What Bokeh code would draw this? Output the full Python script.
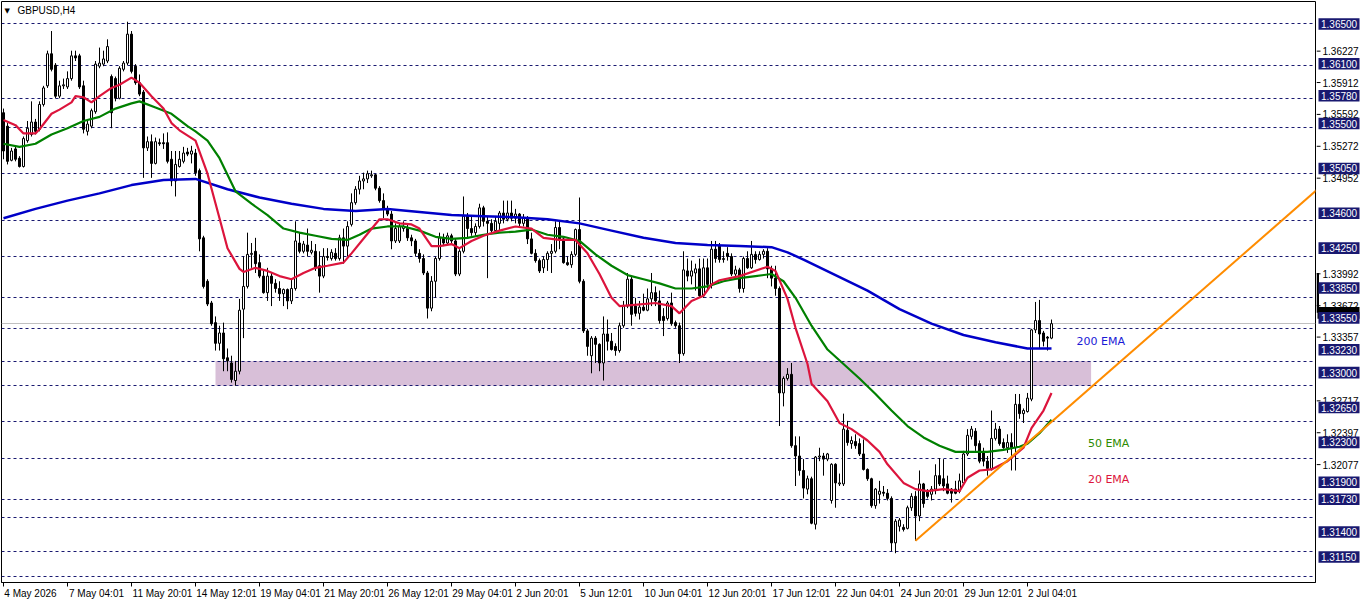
from bokeh.plotting import figure
from bokeh.layouts import row
from bokeh.models import Range1d, FixedTicker, LinearAxis, Label, ColumnDataSource
from bokeh.embed import file_html
from bokeh.resources import INLINE
from bokeh.core.properties import value

# ---------------- data (GBPUSD, H4) ----------------
open_ = [
    1.3564, 1.3551, 1.3518, 1.3529, 1.3520, 1.3512, 1.3537, 1.3543, 1.3555, 1.3548,
    1.3572, 1.3590, 1.3621, 1.3610, 1.3580, 1.3590, 1.3589, 1.3597, 1.3619, 1.3619,
    1.3590, 1.3546, 1.3551, 1.3565, 1.3609, 1.3611, 1.3614, 1.3599, 1.3597, 1.3578,
    1.3606, 1.3612, 1.3640, 1.3609, 1.3593, 1.3584, 1.3530, 1.3536, 1.3515, 1.3535,
    1.3535, 1.3535, 1.3519, 1.3498, 1.3512, 1.3517, 1.3526, 1.3524, 1.3525, 1.3508,
    1.3443, 1.3401, 1.3380, 1.3361, 1.3341, 1.3351, 1.3327, 1.3322, 1.3305, 1.3314,
    1.3374, 1.3396, 1.3427, 1.3430, 1.3419, 1.3406, 1.3390, 1.3406, 1.3399, 1.3394,
    1.3389, 1.3393, 1.3382, 1.3394, 1.3438, 1.3430, 1.3436, 1.3429, 1.3430, 1.3416,
    1.3406, 1.3425, 1.3423, 1.3428, 1.3423, 1.3443, 1.3435, 1.3456, 1.3477, 1.3490,
    1.3498, 1.3500, 1.3503, 1.3504, 1.3491, 1.3479, 1.3471, 1.3466, 1.3440, 1.3440,
    1.3452, 1.3452, 1.3443, 1.3440, 1.3428, 1.3423, 1.3409, 1.3375, 1.3401, 1.3423,
    1.3443, 1.3438, 1.3445, 1.3440, 1.3408, 1.3430, 1.3464, 1.3452, 1.3448, 1.3454,
    1.3472, 1.3459, 1.3457, 1.3450, 1.3457, 1.3467, 1.3461, 1.3467, 1.3462, 1.3466,
    1.3457, 1.3462, 1.3442, 1.3428, 1.3421, 1.3414, 1.3422, 1.3428, 1.3430, 1.3453,
    1.3442, 1.3419, 1.3417, 1.3427, 1.3451, 1.3401, 1.3353, 1.3329, 1.3346, 1.3340,
    1.3322, 1.3350, 1.3343, 1.3338, 1.3334, 1.3358, 1.3377, 1.3403, 1.3377, 1.3370,
    1.3376, 1.3373, 1.3384, 1.3390, 1.3382, 1.3367, 1.3365, 1.3380, 1.3361, 1.3358,
    1.3331, 1.3411, 1.3406, 1.3409, 1.3413, 1.3387, 1.3414, 1.3398, 1.3432, 1.3435,
    1.3422, 1.3428, 1.3425, 1.3408, 1.3412, 1.3394, 1.3423, 1.3414, 1.3427, 1.3422,
    1.3427, 1.3430, 1.3413, 1.3404, 1.3394, 1.3293, 1.3307, 1.3311, 1.3242, 1.3232,
    1.3218, 1.3200, 1.3210, 1.3166, 1.3231, 1.3232, 1.3229, 1.3189, 1.3224, 1.3205,
    1.3205, 1.3257, 1.3244, 1.3246, 1.3244, 1.3234, 1.3219, 1.3210, 1.3184, 1.3195,
    1.3197, 1.3196, 1.3191, 1.3148, 1.3164, 1.3163, 1.3162, 1.3182, 1.3193, 1.3174,
    1.3205, 1.3198, 1.3195, 1.3200, 1.3213, 1.3210, 1.3205, 1.3200, 1.3200, 1.3198,
    1.3206, 1.3234, 1.3251, 1.3256, 1.3244, 1.3235, 1.3227, 1.3220, 1.3249, 1.3258,
    1.3245, 1.3240, 1.3245, 1.3240, 1.3282, 1.3273, 1.3275, 1.3287, 1.3354, 1.3363,
    1.3351, 1.3347, 1.3346,
]
high_ = [
    1.3568, 1.3554, 1.3530, 1.3531, 1.3522, 1.3541, 1.3556, 1.3575, 1.3558, 1.3575,
    1.3590, 1.3624, 1.3643, 1.3612, 1.3595, 1.3597, 1.3604, 1.3624, 1.3624, 1.3621,
    1.3595, 1.3556, 1.3568, 1.3614, 1.3627, 1.3624, 1.3635, 1.3601, 1.3599, 1.3609,
    1.3614, 1.3652, 1.3643, 1.3611, 1.3601, 1.3586, 1.3541, 1.3543, 1.3540, 1.3539,
    1.3544, 1.3545, 1.3527, 1.3527, 1.3527, 1.3531, 1.3530, 1.3532, 1.3529, 1.3510,
    1.3445, 1.3403, 1.3382, 1.3367, 1.3358, 1.3361, 1.3336, 1.3329, 1.3324, 1.3384,
    1.3425, 1.3448, 1.3438, 1.3443, 1.3427, 1.3411, 1.3414, 1.3409, 1.3403, 1.3401,
    1.3394, 1.3394, 1.3403, 1.3459, 1.3448, 1.3440, 1.3452, 1.3440, 1.3437, 1.3430,
    1.3433, 1.3433, 1.3432, 1.3433, 1.3446, 1.3452, 1.3459, 1.3486, 1.3493, 1.3503,
    1.3506, 1.3508, 1.3508, 1.3505, 1.3493, 1.3486, 1.3474, 1.3469, 1.3457, 1.3457,
    1.3459, 1.3457, 1.3446, 1.3442, 1.3432, 1.3427, 1.3411, 1.3406, 1.3425, 1.3448,
    1.3447, 1.3448, 1.3447, 1.3442, 1.3432, 1.3483, 1.3467, 1.3464, 1.3457, 1.3476,
    1.3474, 1.3464, 1.3461, 1.3464, 1.3469, 1.3479, 1.3479, 1.3479, 1.3471, 1.3467,
    1.3466, 1.3464, 1.3448, 1.3432, 1.3423, 1.3425, 1.3430, 1.3437, 1.3459, 1.3459,
    1.3444, 1.3425, 1.3430, 1.3452, 1.3482, 1.3403, 1.3355, 1.3348, 1.3348, 1.3341,
    1.3367, 1.3364, 1.3351, 1.3341, 1.3361, 1.3382, 1.3409, 1.3406, 1.3385, 1.3382,
    1.3389, 1.3394, 1.3409, 1.3396, 1.3392, 1.3375, 1.3382, 1.3390, 1.3363, 1.3361,
    1.3430, 1.3423, 1.3421, 1.3418, 1.3423, 1.3423, 1.3423, 1.3440, 1.3440, 1.3438,
    1.3430, 1.3434, 1.3428, 1.3416, 1.3414, 1.3425, 1.3430, 1.3440, 1.3430, 1.3430,
    1.3432, 1.3433, 1.3416, 1.3416, 1.3396, 1.3309, 1.3317, 1.3322, 1.3251, 1.3251,
    1.3229, 1.3213, 1.3212, 1.3232, 1.3240, 1.3235, 1.3235, 1.3225, 1.3225, 1.3215,
    1.3273, 1.3266, 1.3251, 1.3253, 1.3249, 1.3248, 1.3220, 1.3211, 1.3201, 1.3208,
    1.3203, 1.3200, 1.3193, 1.3171, 1.3172, 1.3166, 1.3184, 1.3196, 1.3198, 1.3218,
    1.3206, 1.3200, 1.3203, 1.3224, 1.3230, 1.3229, 1.3213, 1.3201, 1.3208, 1.3215,
    1.3237, 1.3258, 1.3261, 1.3259, 1.3247, 1.3240, 1.3232, 1.3276, 1.3264, 1.3261,
    1.3249, 1.3253, 1.3254, 1.3292, 1.3292, 1.3278, 1.3293, 1.3355, 1.3381, 1.3383,
    1.3353, 1.3348, 1.3364,
]
low_ = [
    1.3519, 1.3514, 1.3517, 1.3517, 1.3511, 1.3511, 1.3535, 1.3541, 1.3543, 1.3546,
    1.3570, 1.3588, 1.3604, 1.3578, 1.3578, 1.3587, 1.3587, 1.3595, 1.3614, 1.3587,
    1.3544, 1.3542, 1.3549, 1.3563, 1.3607, 1.3609, 1.3612, 1.3549, 1.3575, 1.3577,
    1.3604, 1.3610, 1.3602, 1.3591, 1.3580, 1.3501, 1.3527, 1.3501, 1.3514, 1.3532,
    1.3529, 1.3515, 1.3493, 1.3483, 1.3511, 1.3515, 1.3522, 1.3515, 1.3503, 1.3430,
    1.3394, 1.3377, 1.3358, 1.3334, 1.3334, 1.3314, 1.3314, 1.3303, 1.3300, 1.3311,
    1.3346, 1.3394, 1.3414, 1.3409, 1.3404, 1.3389, 1.3382, 1.3377, 1.3390, 1.3382,
    1.3377, 1.3374, 1.3379, 1.3392, 1.3428, 1.3428, 1.3425, 1.3427, 1.3411, 1.3390,
    1.3404, 1.3421, 1.3421, 1.3421, 1.3421, 1.3418, 1.3425, 1.3454, 1.3475, 1.3485,
    1.3490, 1.3496, 1.3501, 1.3489, 1.3477, 1.3462, 1.3464, 1.3432, 1.3438, 1.3438,
    1.3449, 1.3440, 1.3435, 1.3425, 1.3419, 1.3407, 1.3365, 1.3372, 1.3385, 1.3421,
    1.3435, 1.3437, 1.3437, 1.3406, 1.3406, 1.3428, 1.3443, 1.3445, 1.3445, 1.3452,
    1.3454, 1.3404, 1.3448, 1.3448, 1.3450, 1.3457, 1.3459, 1.3459, 1.3457, 1.3454,
    1.3454, 1.3437, 1.3427, 1.3419, 1.3409, 1.3409, 1.3411, 1.3409, 1.3428, 1.3432,
    1.3418, 1.3416, 1.3414, 1.3425, 1.3399, 1.3351, 1.3329, 1.3312, 1.3322, 1.3314,
    1.3305, 1.3334, 1.3334, 1.3329, 1.3332, 1.3356, 1.3375, 1.3358, 1.3367, 1.3364,
    1.3372, 1.3372, 1.3377, 1.3377, 1.3360, 1.3348, 1.3363, 1.3358, 1.3356, 1.3322,
    1.3329, 1.3401, 1.3398, 1.3392, 1.3385, 1.3385, 1.3392, 1.3394, 1.3419, 1.3419,
    1.3419, 1.3421, 1.3406, 1.3406, 1.3390, 1.3390, 1.3413, 1.3413, 1.3418, 1.3421,
    1.3423, 1.3404, 1.3396, 1.3387, 1.3261, 1.3280, 1.3305, 1.3240, 1.3203, 1.3213,
    1.3191, 1.3195, 1.3166, 1.3161, 1.3227, 1.3213, 1.3227, 1.3186, 1.3182, 1.3203,
    1.3203, 1.3242, 1.3239, 1.3239, 1.3232, 1.3218, 1.3208, 1.3182, 1.3181, 1.3186,
    1.3193, 1.3189, 1.3140, 1.3138, 1.3159, 1.3159, 1.3161, 1.3179, 1.3150, 1.3169,
    1.3182, 1.3191, 1.3189, 1.3195, 1.3203, 1.3198, 1.3195, 1.3187, 1.3195, 1.3196,
    1.3204, 1.3232, 1.3248, 1.3237, 1.3225, 1.3222, 1.3213, 1.3218, 1.3247, 1.3242,
    1.3239, 1.3235, 1.3218, 1.3218, 1.3268, 1.3264, 1.3274, 1.3285, 1.3351, 1.3336,
    1.3338, 1.3334, 1.3345,
]
close_ = [
    1.3527, 1.3517, 1.3527, 1.3519, 1.3512, 1.3539, 1.3549, 1.3555, 1.3546, 1.3572,
    1.3588, 1.3621, 1.3606, 1.3580, 1.3590, 1.3591, 1.3597, 1.3619, 1.3617, 1.3589,
    1.3548, 1.3553, 1.3566, 1.3611, 1.3612, 1.3616, 1.3628, 1.3564, 1.3578, 1.3607,
    1.3612, 1.3640, 1.3604, 1.3593, 1.3582, 1.3530, 1.3536, 1.3515, 1.3536, 1.3534,
    1.3534, 1.3517, 1.3498, 1.3514, 1.3519, 1.3525, 1.3524, 1.3527, 1.3506, 1.3442,
    1.3396, 1.3379, 1.3360, 1.3341, 1.3351, 1.3326, 1.3324, 1.3306, 1.3314, 1.3373,
    1.3396, 1.3427, 1.3428, 1.3418, 1.3406, 1.3390, 1.3406, 1.3399, 1.3394, 1.3389,
    1.3393, 1.3382, 1.3394, 1.3440, 1.3430, 1.3437, 1.3430, 1.3431, 1.3414, 1.3406,
    1.3425, 1.3424, 1.3429, 1.3423, 1.3443, 1.3435, 1.3454, 1.3477, 1.3490, 1.3498,
    1.3500, 1.3505, 1.3504, 1.3491, 1.3479, 1.3471, 1.3466, 1.3440, 1.3452, 1.3454,
    1.3454, 1.3443, 1.3440, 1.3428, 1.3423, 1.3409, 1.3375, 1.3401, 1.3423, 1.3443,
    1.3438, 1.3445, 1.3440, 1.3408, 1.3430, 1.3464, 1.3452, 1.3448, 1.3454, 1.3472,
    1.3459, 1.3457, 1.3450, 1.3459, 1.3467, 1.3461, 1.3467, 1.3462, 1.3466, 1.3457,
    1.3462, 1.3442, 1.3428, 1.3421, 1.3411, 1.3422, 1.3428, 1.3430, 1.3453, 1.3442,
    1.3419, 1.3417, 1.3427, 1.3451, 1.3401, 1.3353, 1.3338, 1.3346, 1.3340, 1.3322,
    1.3350, 1.3343, 1.3335, 1.3334, 1.3358, 1.3377, 1.3403, 1.3369, 1.3370, 1.3376,
    1.3373, 1.3384, 1.3390, 1.3382, 1.3363, 1.3363, 1.3380, 1.3360, 1.3358, 1.3331,
    1.3412, 1.3406, 1.3411, 1.3413, 1.3387, 1.3414, 1.3398, 1.3432, 1.3423, 1.3422,
    1.3423, 1.3425, 1.3408, 1.3412, 1.3394, 1.3423, 1.3414, 1.3427, 1.3422, 1.3427,
    1.3430, 1.3413, 1.3404, 1.3394, 1.3293, 1.3307, 1.3311, 1.3242, 1.3232, 1.3218,
    1.3201, 1.3210, 1.3167, 1.3231, 1.3232, 1.3229, 1.3234, 1.3224, 1.3206, 1.3206,
    1.3258, 1.3245, 1.3247, 1.3242, 1.3234, 1.3219, 1.3210, 1.3184, 1.3200, 1.3198,
    1.3196, 1.3191, 1.3148, 1.3169, 1.3170, 1.3161, 1.3182, 1.3193, 1.3174, 1.3205,
    1.3186, 1.3193, 1.3200, 1.3213, 1.3205, 1.3203, 1.3196, 1.3196, 1.3196, 1.3208,
    1.3234, 1.3252, 1.3258, 1.3242, 1.3227, 1.3227, 1.3220, 1.3249, 1.3258, 1.3244,
    1.3240, 1.3245, 1.3240, 1.3282, 1.3273, 1.3276, 1.3288, 1.3354, 1.3363, 1.3350,
    1.3343, 1.3346, 1.3360,
]

# Moving averages as drawn (bar index, price)
ema200_bar = [0, 8, 16, 24, 32, 40, 48, 56, 64, 72, 80, 88, 96, 104, 112, 120, 128, 136, 144, 152,
              160, 168, 176, 184, 192, 196, 200, 208, 216, 224, 232, 240, 248, 256, 262]
ema200_val = [1.3462, 1.3471, 1.3479, 1.3486, 1.3494, 1.3499, 1.3500, 1.3490, 1.3482, 1.3476,
              1.3471, 1.3469, 1.3471, 1.3468, 1.3465, 1.3464, 1.3463, 1.3461, 1.3457, 1.3450,
              1.3443, 1.3438, 1.3436, 1.3435, 1.3434, 1.3429, 1.3422, 1.3407, 1.3392, 1.3374,
              1.3360, 1.3349, 1.3342, 1.3336, 1.3336]
ema50_bar = [0, 4, 8, 12, 16, 20, 24, 28, 32, 34, 38, 42, 46, 48, 51, 54, 58, 62, 66, 70,
             74, 78, 82, 86, 89, 92, 96, 100, 104, 108, 112, 116, 120, 124, 128, 132, 136, 140, 144, 148,
             152, 156, 160, 164, 168, 172, 176, 180, 184, 188, 192, 195, 198, 202, 206, 210, 214, 218, 222, 226,
             230, 234, 238, 242, 246, 250, 254, 256, 259, 262]
ema50_val = [1.3534, 1.3531, 1.3534, 1.3543, 1.3549, 1.3556, 1.3560, 1.3568, 1.3573, 1.3575,
             1.3569, 1.3563, 1.3551, 1.3546, 1.3537, 1.3520, 1.3488, 1.3476, 1.3465, 1.3452,
             1.3448, 1.3445, 1.3442, 1.3441, 1.3446, 1.3452, 1.3454, 1.3454, 1.3450, 1.3444,
             1.3442, 1.3443, 1.3446, 1.3448, 1.3449, 1.3451, 1.3446, 1.3444, 1.3440, 1.3427,
             1.3416, 1.3407, 1.3403, 1.3399, 1.3394, 1.3394, 1.3396, 1.3401, 1.3404, 1.3406,
             1.3408, 1.3401, 1.3385, 1.3358, 1.3335, 1.3321, 1.3307, 1.3292, 1.3276, 1.3261,
             1.3250, 1.3242, 1.3236, 1.3236, 1.3236, 1.3238, 1.3241, 1.3244, 1.3254, 1.3267]
ema20_bar = [0, 3, 5, 8, 9, 12, 14, 17, 18, 20, 22, 24, 27, 29, 32, 34, 37, 40, 42, 44,
             48, 51, 54, 56, 59, 60, 63, 66, 69, 72, 75, 78, 81, 85, 87, 91, 94, 96, 99, 102,
             104, 107, 109, 112, 114, 117, 120, 124, 128, 132, 135, 139, 143, 146, 149, 152, 154, 157, 163, 167,
             169, 172, 175, 177, 179, 184, 191, 193, 196, 198, 201, 202, 206, 209, 212, 216, 219, 221, 225, 228,
             231, 235, 239, 241, 244, 247, 251, 255, 257, 260, 262]
ema20_val = [1.3557, 1.3552, 1.3544, 1.3544, 1.3548, 1.3563, 1.3567, 1.3574, 1.3580, 1.3579,
             1.3574, 1.3580, 1.3588, 1.3591, 1.3598, 1.3593, 1.3580, 1.3568, 1.3554, 1.3547,
             1.3537, 1.3505, 1.3462, 1.3433, 1.3413, 1.3410, 1.3414, 1.3411, 1.3406, 1.3403,
             1.3409, 1.3414, 1.3416, 1.3419, 1.3428, 1.3447, 1.3461, 1.3461, 1.3457, 1.3456,
             1.3452, 1.3435, 1.3435, 1.3437, 1.3433, 1.3440, 1.3445, 1.3450, 1.3454, 1.3452,
             1.3443, 1.3441, 1.3441, 1.3428, 1.3408, 1.3385, 1.3377, 1.3378, 1.3380, 1.3377,
             1.3370, 1.3382, 1.3387, 1.3398, 1.3402, 1.3406, 1.3415, 1.3411, 1.3384, 1.3356,
             1.3321, 1.3302, 1.3285, 1.3264, 1.3258, 1.3247, 1.3236, 1.3224, 1.3206, 1.3200,
             1.3198, 1.3200, 1.3198, 1.3211, 1.3218, 1.3219, 1.3227, 1.3240, 1.3259, 1.3276,
             1.3293]

# horizontal levels (dashed) and their price boxes
level_prices = [1.3650, 1.3610, 1.3578, 1.3550, 1.3505, 1.3460, 1.3425, 1.3385, 1.3355,
                1.3323, 1.3300, 1.3265, 1.3230, 1.3190, 1.3173, 1.3140, 1.3115]
level_labels = ["1.36500", "1.36100", "1.35780", "1.35500", "1.35050", "1.34600", "1.34250",
                "1.33850", "1.33550", "1.33230", "1.33000", "1.32650", "1.32300", "1.31900",
                "1.31730", "1.31400", "1.31150"]
price_ticks = [1.36227, 1.35912, 1.35592, 1.35272, 1.34952, 1.33992, 1.33672, 1.33357,
               1.32717, 1.32397, 1.32077]
price_tick_labels = ["1.36227", "1.35912", "1.35592", "1.35272", "1.34952", "1.33992",
                     "1.33672", "1.33357", "1.32717", "1.32397", "1.32077"]
time_bars = [0, 16, 32, 48, 64, 80, 96, 112, 128, 144, 160, 176, 192, 208, 224, 240, 256]
time_labels = ["4 May 2026", "7 May 04:01", "11 May 20:01", "14 May 12:01", "19 May 04:01",
               "21 May 20:01", "26 May 12:01", "29 May 04:01", "2 Jun 20:01", "5 Jun 12:01",
               "10 Jun 04:01", "12 Jun 20:01", "17 Jun 12:01", "22 Jun 04:01", "24 Jun 20:01",
               "29 Jun 12:01", "2 Jul 04:01"]
current_price = 1.3360
zone_bars = [53, 271.9]
zone_prices = [1.3300, 1.3324]
trend_bars = [228, 330]
trend_prices = [1.3150, 1.3495]
ema_label_text = ["200 EMA", "50 EMA", "20 EMA"]
ema_label_bar = [268.25, 271.1, 271.1]
ema_label_price = [1.33427, 1.32438, 1.32093]
ema_label_color = ["#1a1ad6", "#2e8b00", "#dc143c"]

# ---------------- layout constants ----------------
NAVY = "#191970"
FONT = "Liberation Sans"
PX_PER_BAR = 4.0
FRAME_W = 1314                       # chart frame width (canvas x 1..1315)
X0 = -0.5                            # bar index at the frame's left edge
PX_PER_PRICE = 10340.0               # vertical scale (pixels per 1.0 of price)
Y_TOP = 1.367157                     # price at frame top (canvas y = 1)
FRAME_H = 581
Y_BOT = Y_TOP - FRAME_H / PX_PER_PRICE

# ---------------- main chart ----------------
p = figure(width=1316, height=603, output_backend="svg", toolbar_location=None, title=None,
           x_range=Range1d(X0, X0 + FRAME_W / PX_PER_BAR), y_range=Range1d(Y_BOT, Y_TOP),
           x_axis_location=None, y_axis_location=None, min_border_left=1, min_border_top=1,
           min_border_right=1, min_border_bottom=21)
p.background_fill_color = "white"
p.border_fill_color = "white"
p.outline_line_color = "black"
p.outline_line_width = 1
p.xgrid.visible = False
p.ygrid.visible = False

p.quad(left=[zone_bars[0]], right=[zone_bars[1]], bottom=[zone_prices[0]], top=[zone_prices[1]],
       fill_color="#d8bfd8", line_color=None)
p.hspan(y=level_prices, line_color=NAVY, line_width=1, line_dash="3 3")
p.hspan(y=[current_price], line_color="#c0c0c0", line_width=1)

n = len(close_)
idx = list(range(n))
top = [max(o, c) for o, c in zip(open_, close_)]
bot = [min(o, c) for o, c in zip(open_, close_)]
fill = ["white" if c >= o else "black" for o, c in zip(open_, close_)]
src = ColumnDataSource(dict(x=idx, h=high_, l=low_, top=top, bot=bot, fill=fill))
p.segment(x0="x", y0="l", x1="x", y1="h", source=src, line_color="black", line_width=1)
p.vbar(x="x", width=0.5, top="top", bottom="bot", source=src, fill_color="fill",
       line_color="black", line_width=1)

p.line(ema200_bar, ema200_val, line_color="#0000c8", line_width=2.5)
p.line(ema50_bar, ema50_val, line_color="#008000", line_width=2.2)
p.line(ema20_bar, ema20_val, line_color="#dc143c", line_width=2.2)
p.line(trend_bars, trend_prices, line_color="#ff8c00", line_width=2)

p.text(x=ema_label_bar, y=ema_label_price, text=ema_label_text, text_color=ema_label_color,
       text_font=value("DejaVu Sans"), text_font_size="11px", text_align="left",
       text_baseline="middle")

# time axis in frame pixels: minor ticks mark the bars, labels start at each tick
CHAR_W = {"0": 5.56, "1": 5.56, "2": 5.56, "3": 5.56, "4": 5.56, "5": 5.56, "6": 5.56,
          "7": 5.56, "8": 5.56, "9": 5.56, " ": 2.78, ":": 2.78, "M": 8.33, "a": 5.56,
          "y": 5.0, "J": 5.0, "u": 5.56, "n": 5.56, "l": 2.22}
p.extra_x_ranges = {"px": Range1d(0, FRAME_W)}
tick_px = [(b - X0) * PX_PER_BAR for b in time_bars]
label_px = []
for tx, t in zip(tick_px, time_labels):
    w = sum(CHAR_W.get(ch, 5.56) for ch in t)
    label_px.append(int(round(tx + 1 + w / 2)))
xa = LinearAxis(x_range_name="px", ticker=FixedTicker(ticks=label_px, minor_ticks=tick_px),
                major_label_overrides={k: t for k, t in zip(label_px, time_labels)})
xa.axis_line_color = "black"
xa.major_tick_line_color = None
xa.major_tick_in = 0
xa.major_tick_out = 4
xa.minor_tick_line_color = "black"
xa.minor_tick_in = 0
xa.minor_tick_out = 4
xa.major_label_standoff = 1
xa.major_label_text_font = FONT
xa.major_label_text_font_size = "10px"
xa.major_label_text_color = "black"
p.add_layout(xa, "below")

p.add_layout(Label(x=3, y=Y_TOP - 9 / PX_PER_PRICE, x_units="screen", text="\u25BC",
                   text_color="black", text_font="DejaVu Sans", text_font_size="7px",
                   text_baseline="middle"))
p.add_layout(Label(x=16, y=Y_TOP - 9 / PX_PER_PRICE, x_units="screen", text="GBPUSD,H4",
                   text_color="black", text_font=FONT, text_font_size="10px",
                   text_baseline="middle"))

# ---------------- price scale strip (canvas x 1316..1362) ----------------
S_TOP = Y_TOP + 1 / PX_PER_PRICE
S_BOT = S_TOP - 603 / PX_PER_PRICE
ps = figure(width=46, height=603, output_backend="svg", toolbar_location=None, title=None,
            x_range=Range1d(0, 46), y_range=Range1d(S_BOT, S_TOP),
            x_axis_location=None, y_axis_location=None, min_border=0)
ps.background_fill_color = "white"
ps.border_fill_color = "white"
ps.outline_line_color = None
ps.xgrid.visible = False
ps.ygrid.visible = False

half_box = 6 / PX_PER_PRICE
ps.segment(x0=[0] * len(price_ticks), x1=[4] * len(price_ticks), y0=price_ticks, y1=price_ticks,
           line_color="black", line_width=1)
ps.text(x=[6] * len(price_ticks), y=price_ticks, text=price_tick_labels, text_color="black",
        text_font=value(FONT), text_font_size="10px", text_align="left", text_baseline="middle")
# current price marker
ps.quad(left=[0], right=[2.5], bottom=[current_price], top=[1.3400], fill_color="black",
        line_color=None)
ps.quad(left=[1], right=[43], bottom=[current_price - half_box], top=[current_price + half_box],
        fill_color="black", line_color=None)
# level boxes
ps.quad(left=[2] * len(level_prices), right=[43] * len(level_prices),
        bottom=[v - half_box for v in level_prices], top=[v + half_box for v in level_prices],
        fill_color=NAVY, line_color=None)
ps.text(x=[4.5] * len(level_prices), y=level_prices, text=level_labels, text_color="white",
        text_font=value(FONT), text_font_size="10px", text_align="left", text_baseline="middle")

open("out.html", "w").write(file_html(row(p, ps), INLINE))
